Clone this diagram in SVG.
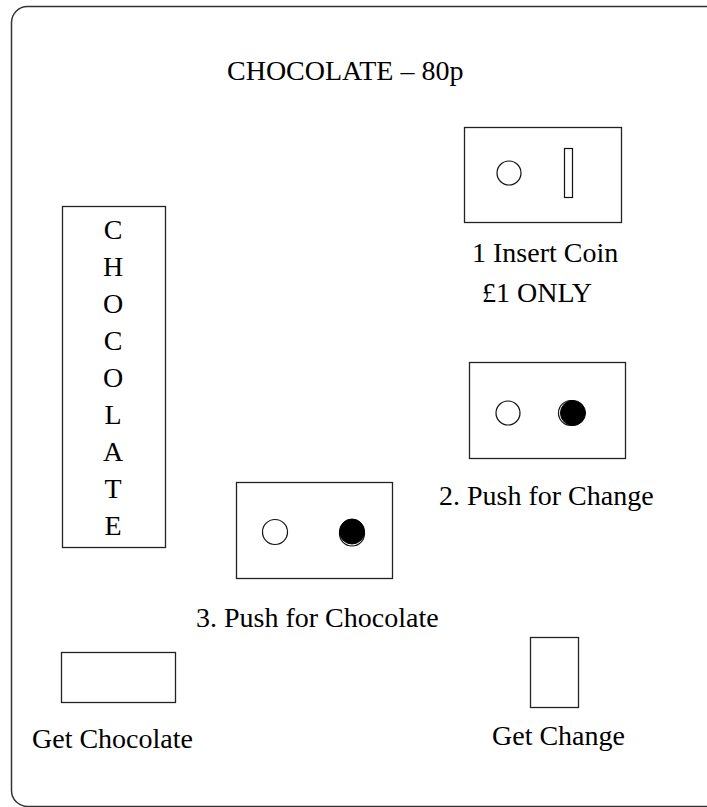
<svg xmlns="http://www.w3.org/2000/svg" width="707" height="807" viewBox="0 0 707 807" font-family="Liberation Serif, Times New Roman, serif">
<style>
text{font-family:'Liberation Serif','Times New Roman',Tinos,serif;font-size:28px;fill:#000}
.box{fill:#fff;stroke:#222;stroke-width:1.3}
.hole{fill:#fff;stroke:#111;stroke-width:1.2}
.btn{fill:#000;stroke:#000;stroke-width:1}
.frame{fill:#fff;stroke:#333;stroke-width:1.5}
</style>
<rect width="707" height="807" fill="#fff"/>
<rect class="frame" x="11.5" y="6.5" width="715" height="800" rx="16"/>
<g id="title"><text x="227" y="80">CHOCOLATE – 80p</text></g>
<g id="chocolate-panel">
<rect class="box" x="62.5" y="206.5" width="103" height="341"/>
<g text-anchor="middle">
<text x="113" y="239">C</text>
<text x="113" y="276">H</text>
<text x="113" y="313">O</text>
<text x="113" y="350">C</text>
<text x="113" y="387">O</text>
<text x="113" y="424">L</text>
<text x="113" y="461">A</text>
<text x="113" y="498">T</text>
<text x="113" y="535">E</text>
</g>
</g>
<g id="insert-coin">
<rect class="box" x="464.5" y="127.5" width="157" height="95"/>
<circle class="hole" cx="509" cy="173" r="12"/>
<rect class="hole" x="564.5" y="148.5" width="8" height="49"/>
<text x="472" y="262">1 Insert Coin</text>
<text x="482" y="302">£1 ONLY</text>
</g>
<g id="push-change">
<rect class="box" x="469.5" y="362.5" width="156" height="96"/>
<circle class="hole" cx="508" cy="413" r="12"/>
<circle class="hole" cx="571" cy="413" r="12.5"/>
<circle class="btn" cx="573" cy="413" r="12.5"/>
<text x="439" y="505">2. Push for Change</text>
</g>
<g id="push-chocolate">
<rect class="box" x="236.5" y="482.5" width="156" height="96"/>
<circle class="hole" cx="275" cy="532" r="12.5"/>
<circle class="hole" cx="352" cy="533.5" r="12.5"/>
<circle class="btn" cx="352" cy="531.5" r="12.5"/>
<text x="196" y="627">3. Push for Chocolate</text>
</g>
<g id="get-chocolate">
<rect class="box" x="61.5" y="652.5" width="114" height="50"/>
<text x="32" y="748">Get Chocolate</text>
</g>
<g id="get-change">
<rect class="box" x="530.5" y="637.5" width="48" height="70"/>
<text x="492" y="745">Get Change</text>
</g>
<g id="connectors"/>
</svg>
